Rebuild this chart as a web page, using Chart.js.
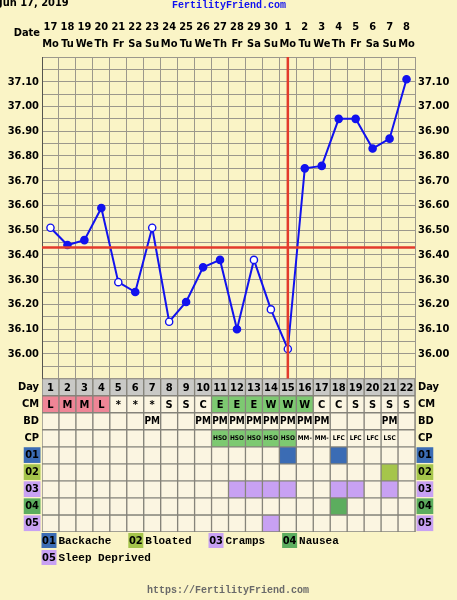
<!DOCTYPE html>
<html>
<head>
<meta charset="utf-8">
<script src="https://cdn.jsdelivr.net/npm/chart.js@4.4.0/dist/chart.umd.min.js"></script>
<style>
  html, body { margin: 0; padding: 0; background: #faf4c6; }
  canvas { display: block; }
</style>
</head>
<body>
<canvas id="bbtChart" width="457" height="600"></canvas>
<script>
// Chart data
const dates = ['17','18','19','20','21','22','23','24','25','26','27','28','29','30','1','2','3','4','5','6','7','8'];
const weekdays = ['Mo','Tu','We','Th','Fr','Sa','Su','Mo','Tu','We','Th','Fr','Sa','Su','Mo','Tu','We','Th','Fr','Sa','Su','Mo'];
const cycleDays = [1,2,3,4,5,6,7,8,9,10,11,12,13,14,15,16,17,18,19,20,21,22];
const temps = [36.51,36.44,36.46,36.59,36.29,36.25,36.51,36.13,36.21,36.35,36.38,36.10,36.38,36.18,36.02,36.75,36.76,36.95,36.95,36.83,36.87,37.11];
const openPoints = [1,0,0,0,1,0,1,1,0,0,0,0,1,1,1,0,0,0,0,0,0,0];
const coverline = 36.43;
const ovulationDay = 15;

const cmValues = ['L','M','M','L','*','*','*','S','S','C','E','E','E','W','W','W','C','C','S','S','S','S'];
const bdValues = ['','','','','','','PM','','','PM','PM','PM','PM','PM','PM','PM','PM','','','','PM',''];
const cpValues = ['','','','','','','','','','','HSO','HSO','HSO','HSO','HSO','MM-','MM-','LFC','LFC','LFC','LSC',''];

const rowLabels = ['Day','CM','BD','CP','01','02','03','04','05'];
const symptomNames = ['Backache','Bloated','Cramps','Nausea','Sleep Deprived'];
const symptomDays = [[15,18],[21],[12,13,14,15,18,19,21],[18],[14]];

// Colours
const cellColor = '#fbf5e1';
const dayRowColor = '#c9c9c6';
const pinkColor = '#ee8596';
const greenColor = '#7dc971';
const symptomColors = ['#3b6cb4','#a5c54b','#c8a1f3','#5cad5e','#c8a1f3'];
const lineBlue = '#1212ee';
const redColor = '#e33b2c';
const gridColor = '#9c988c';

const boldFont = '"DejaVu Sans Condensed", "DejaVu Sans", Verdana, sans-serif';
const monoFont = '"Liberation Mono", "Courier New", monospace';

function tableCellColor(row, i) {
    const day = cycleDays[i];
    if (row === 0) return dayRowColor;
    if (row === 1) {
        const v = cmValues[i];
        if (v === 'L' || v === 'M') return pinkColor;
        if (v === 'E' || v === 'W') return greenColor;
        return cellColor;
    }
    if (row === 3) return cpValues[i] === 'HSO' ? greenColor : cellColor;
    if (row >= 4) {
        const s = row - 4;
        return symptomDays[s].includes(day) ? symptomColors[s] : cellColor;
    }
    return cellColor;
}

function tableCellText(row, i) {
    if (row === 0) return String(cycleDays[i]);
    if (row === 1) return cmValues[i];
    if (row === 2) return bdValues[i];
    if (row === 3) return cpValues[i];
    return '';
}

// Table rows as floating bars
const tableDatasets = rowLabels.map((label, r) => ({
    type: 'bar',
    label: label,
    xAxisID: 'x',
    yAxisID: 'yC',
    grouped: false,
    data: cycleDays.map(() => [r, r + 1]),
    backgroundColor: cycleDays.map((d, i) => tableCellColor(r, i)),
    borderColor: '#85837a',
    borderWidth: 1,
    borderSkipped: false,
    barPercentage: 1,
    categoryPercentage: 1
}));

// Text inside table cells, header, legend, footer
const chartText = {
    id: 'chartText',
    afterDatasetsDraw(chart) {
        const { ctx, scales } = chart;
        const x = scales.x;
        const yC = scales.yC;
        ctx.save();
        ctx.textAlign = 'center';
        ctx.textBaseline = 'middle';
        ctx.fillStyle = '#000';
        for (let r = 0; r < 4; r++) {
            const cy = yC.getPixelForValue(r + 0.5);
            for (let i = 0; i < cycleDays.length; i++) {
                const t = tableCellText(r, i);
                if (!t) continue;
                if (r === 3) ctx.font = 'bold 6.5px ' + boldFont;
                else if (r === 2) ctx.font = 'bold 10px ' + boldFont;
                else ctx.font = 'bold 11px ' + boldFont;
                ctx.fillText(t, x.getPixelForValue(i), cy + 0.5);
            }
        }
        ctx.restore();
    },
    afterDraw(chart) {
        const { ctx } = chart;
        ctx.save();
        // header
        ctx.textBaseline = 'alphabetic';
        ctx.fillStyle = '#000';
        ctx.font = 'bold 11px ' + boldFont;
        ctx.textAlign = 'left';
        ctx.fillText('Jun 17, 2019', -1, 6);
        ctx.fillStyle = '#1010f0';
        ctx.font = 'bold 10px ' + monoFont;
        ctx.fillText('FertilityFriend.com', 172, 8);
        ctx.fillStyle = '#000';
        ctx.font = 'bold 11px ' + boldFont;
        ctx.textAlign = 'right';
        ctx.textBaseline = 'middle';
        ctx.fillText('Date', 40, 33);

        // legend
        let lx = 41.5;
        let ly = 533;
        symptomNames.forEach((name, s) => {
            ctx.font = 'bold 11px ' + monoFont;
            const w = 15 + 2 + ctx.measureText(name).width;
            if (lx + w > 415) { lx = 41.5; ly += 17; }
            ctx.fillStyle = symptomColors[s];
            ctx.fillRect(lx, ly, 15, 15);
            ctx.fillStyle = '#000';
            ctx.font = 'bold 11px ' + boldFont;
            ctx.textAlign = 'center';
            ctx.fillText('0' + (s + 1), lx + 7.5, ly + 8);
            ctx.font = 'bold 11px ' + monoFont;
            ctx.textAlign = 'left';
            ctx.fillText(name, lx + 17, ly + 8);
            lx += w + 17;
        });

        // footer
        ctx.fillStyle = '#6a6a6a';
        ctx.font = 'bold 10px ' + monoFont;
        ctx.textAlign = 'center';
        ctx.fillText('https://FertilityFriend.com', 228, 590);
        ctx.restore();
    }
};

const rowTicks = {
    afterBuildTicks(scale) {
        scale.ticks = rowLabels.map((l, i) => ({ value: i + 0.5 }));
    },
    ticks: {
        callback: (v, i) => rowLabels[i],
        autoSkip: false,
        font: { family: boldFont, weight: 'bold', size: 11 },
        color: '#000',
        padding: 3,
        showLabelBackdrop: true,
        backdropColor: c => c.index >= 4 ? symptomColors[c.index - 4] : 'rgba(0,0,0,0)',
        backdropPadding: { top: 1.5, bottom: 1, left: 1.5, right: 1.5 }
    }
};

const tempTickOpts = {
    stepSize: 0.05,
    autoSkip: false,
    color: '#000',
    padding: 3,
    font: { family: boldFont, weight: 'bold', size: 11 },
    callback: function (v) {
        const h = Math.round(v * 100);
        if (h % 10 !== 0 || h < 3600 || h > 3710) return '';
        return (h / 100).toFixed(2);
    }
};

const ctx = document.getElementById('bbtChart').getContext('2d');
const bbtChart = new Chart(ctx, {
    type: 'line',
    data: {
        labels: cycleDays.map(String),
        datasets: [
            {
                label: 'Coverline',
                xAxisID: 'xLin',
                yAxisID: 'yT',
                data: [{ x: 0.5, y: coverline }, { x: 22.5, y: coverline }],
                borderColor: redColor,
                borderWidth: 2.5,
                pointRadius: 0
            },
            {
                label: 'Ovulation',
                xAxisID: 'xLin',
                yAxisID: 'yT',
                data: [{ x: ovulationDay, y: 35.9 }, { x: ovulationDay, y: 37.2 }],
                borderColor: redColor,
                borderWidth: 2.5,
                pointRadius: 0
            },
            {
                label: 'Temperature',
                xAxisID: 'x',
                yAxisID: 'yT',
                data: temps,
                borderColor: lineBlue,
                borderWidth: 2,
                pointRadius: 3.6,
                pointBorderWidth: 1.4,
                pointBorderColor: lineBlue,
                pointBackgroundColor: openPoints.map(o => o ? '#ffffff' : lineBlue),
                tension: 0
            },
            ...tableDatasets
        ]
    },
    options: {
        responsive: false,
        animation: false,
        events: [],
        layout: { padding: { top: 0, bottom: 68, left: 0, right: 0 } },
        plugins: { legend: { display: false }, tooltip: { enabled: false } },
        scales: {
            xTop: {
                type: 'category',
                position: 'top',
                labels: dates.map((d, i) => [d, weekdays[i]]),
                offset: true,
                grid: { display: false, drawTicks: false },
                border: { display: false },
                ticks: {
                    color: '#000',
                    padding: 4,
                    maxRotation: 0,
                    autoSkip: false,
                    font: { family: boldFont, weight: 'bold', size: 11, lineHeight: 1.55 }
                },
                afterFit: s => { s.height = 57; }
            },
            x: {
                type: 'category',
                offset: true,
                grid: { offset: true, color: gridColor, drawTicks: false },
                border: { display: false },
                ticks: { display: false },
                afterFit: s => { s.height = 0; }
            },
            xLin: {
                type: 'linear',
                min: 0.5,
                max: 22.5,
                display: false
            },
            // left stack is laid out in reverse order, so the table axis comes first
            yC: {
                type: 'linear',
                position: 'left',
                stack: 'left',
                stackWeight: 153,
                min: 0,
                max: 9,
                reverse: true,
                grid: { display: false, drawTicks: false },
                border: { display: false },
                ...rowTicks,
                afterFit: s => { s.width = 42; }
            },
            yT: {
                type: 'linear',
                position: 'left',
                stack: 'left',
                stackWeight: 321,
                min: 35.9,
                max: 37.2,
                grid: { color: gridColor, drawTicks: false },
                border: { color: '#55544f' },
                ticks: tempTickOpts,
                afterFit: s => { s.width = 42; }
            },
            yT2: {
                type: 'linear',
                position: 'right',
                stack: 'right',
                stackWeight: 321,
                min: 35.9,
                max: 37.2,
                grid: { display: false, drawTicks: false },
                border: { display: false },
                ticks: tempTickOpts,
                afterFit: s => { s.width = 42; }
            },
            yC2: {
                type: 'linear',
                position: 'right',
                stack: 'right',
                stackWeight: 153,
                min: 0,
                max: 9,
                reverse: true,
                grid: { display: false, drawTicks: false },
                border: { display: false },
                ...rowTicks,
                afterFit: s => { s.width = 42; }
            }
        }
    },
    plugins: [chartText]
});
</script>
</body>
</html>
